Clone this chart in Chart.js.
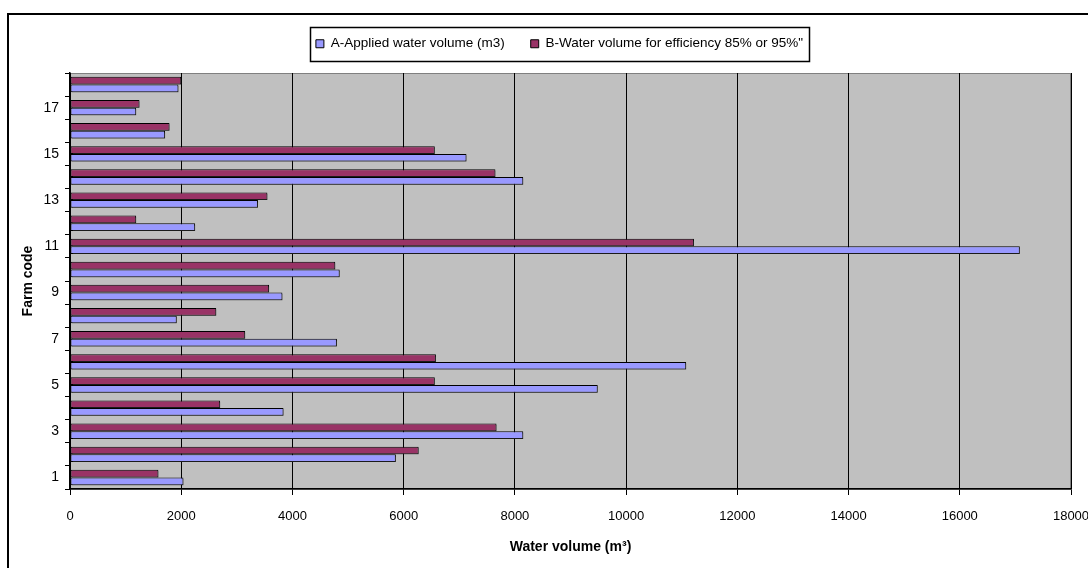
<!DOCTYPE html>
<html>
<head>
<meta charset="utf-8">
<title>Farm water volume</title>
<script src="https://cdn.jsdelivr.net/npm/chart.js@4.4.1/dist/chart.umd.min.js"></script>
<style>
    html, body { margin: 0; padding: 0; background: #fff; }
    #wrap { width: 1088px; height: 568px; position: relative; }
</style>
</head>
<body>
<div id="wrap"><canvas id="farm-chart"></canvas></div>
<script>
// data (farm 1 .. 18)
const farmCodes = ['1', '2', '3', '4', '5', '6', '7', '8', '9', '10', '11', '12', '13', '14', '15', '16', '17', '18'];
const appliedVolume = [2040, 5860, 8150, 3840, 9490, 11080, 4800, 1920, 3820, 4850, 17080, 2250, 3380, 8150, 7130, 1710, 1190, 1950];
const efficiencyVolume = [1590, 6270, 7670, 2700, 6560, 6580, 3150, 2630, 3580, 4770, 11220, 1190, 3550, 7650, 6560, 1790, 1250, 2000];
const seriesNames = ['A-Applied water volume (m3)', 'B-Water volume for efficiency 85% or 95%"'];
const xMax = 18000;
const xStep = 2000;

const FONT = "'Liberation Sans', Arial, sans-serif";
const LAYOUT_TOP = 11;
const PLOT_TOP = 73;

// grey plot background + thin grey border, like the spreadsheet plot area
const plotArea = {
    id: 'plotArea',
    beforeDraw(chart) {
        const { ctx, chartArea: a } = chart;
        ctx.save();
        ctx.fillStyle = '#c0c0c0';
        ctx.fillRect(a.left, a.top, a.right - a.left, a.bottom - a.top);
        ctx.strokeStyle = '#808080';
        ctx.lineWidth = 1;
        ctx.strokeRect(a.left + 0.5, a.top + 0.5, a.right - a.left - 1, a.bottom - a.top);
        ctx.restore();
    },
    beforeDatasetsDraw(chart) {
        const ctx = chart.ctx;
        ctx.save();
        ctx.shadowColor = 'rgba(60,60,60,0.45)';
        ctx.shadowOffsetX = 1.5;
        ctx.shadowOffsetY = 1.5;
        ctx.shadowBlur = 0;
    },
    afterDatasetsDraw(chart) {
        chart.ctx.restore();
    }
};

// outer chart frame and the box round the legend
const frames = {
    id: 'frames',
    beforeLayout(chart) {
        const lg = chart.legend;
        if (lg && !lg._padded) {
            const fit = lg.fit;
            lg.fit = function () {
                fit.call(this);
                this.height = PLOT_TOP - LAYOUT_TOP;
            };
            lg._padded = true;
        }
    },
    afterLayout(chart) {
        // legend sits a little right of centre in the original
        chart.legend.left += 20;
        chart.legend.right += 20;
    },
    afterDraw(chart) {
        const ctx = chart.ctx;
        ctx.save();
        ctx.strokeStyle = '#000';
        ctx.lineWidth = 2;
        ctx.beginPath();
        ctx.moveTo(8, chart.height);
        ctx.lineTo(8, 14);
        ctx.lineTo(chart.width, 14);
        ctx.stroke();

        const boxes = chart.legend.legendHitBoxes;
        if (boxes && boxes.length) {
            const left = Math.min(...boxes.map(b => b.left)) - 6;
            const right = Math.max(...boxes.map(b => b.left + b.width)) + 6;
            const mid = boxes[0].top + boxes[0].height / 2;
            ctx.lineWidth = 1.5;
            ctx.strokeRect(Math.round(left) + 0.5, Math.round(mid - 17) + 0.5, Math.round(right - left), 34);
        }
        ctx.restore();
    }
};

new Chart(document.getElementById('farm-chart'), {
    type: 'bar',
    data: {
        labels: farmCodes,
        datasets: [
            {
                label: seriesNames[1],
                data: efficiencyVolume,
                backgroundColor: '#993366',
                borderColor: '#000',
                borderWidth: 1,
                borderSkipped: false
            },
            {
                label: seriesNames[0],
                data: appliedVolume,
                backgroundColor: '#9999ff',
                borderColor: '#000',
                borderWidth: 1,
                borderSkipped: false
            }
        ]
    },
    plugins: [plotArea, frames],
    options: {
        indexAxis: 'y',
        responsive: true,
        maintainAspectRatio: false,
        animation: false,
        categoryPercentage: 0.667,
        barPercentage: 1.0,
        layout: { padding: { top: LAYOUT_TOP, left: 8, right: 17, bottom: 0 } },
        plugins: {
            tooltip: { enabled: false },
            legend: {
                position: 'top',
                reverse: true,
                labels: {
                    color: '#000',
                    font: { family: FONT, size: 13.5 },
                    boxWidth: 8,
                    boxHeight: 8,
                    padding: 26
                }
            }
        },
        scales: {
            x: {
                type: 'linear',
                min: 0,
                max: xMax,
                afterFit(scale) {
                    scale.height = 79;
                    scale.paddingLeft = 0;
                    scale.paddingRight = 0;
                },
                ticks: {
                    stepSize: xStep,
                    color: '#000',
                    padding: 14,
                    maxRotation: 0,
                    font: { family: FONT, size: 13 },
                    callback: v => String(v)
                },
                grid: { color: '#000', lineWidth: 1, tickLength: 6 },
                border: { color: '#000', width: 1.5 },
                title: {
                    display: true,
                    text: 'Water volume (m³)',
                    color: '#000',
                    font: { family: FONT, size: 14, weight: 'bold' },
                    padding: { top: 0, bottom: 12 }
                }
            },
            y: {
                type: 'category',
                reverse: true,
                afterFit(scale) {
                    scale.width = 62;
                },
                ticks: {
                    autoSkip: false,
                    color: '#000',
                    padding: 6,
                    font: { family: FONT, size: 14 },
                    callback: (v, i) => (i % 2 === 0 ? farmCodes[i] : '')
                },
                grid: { offset: true, drawOnChartArea: false, color: '#000', tickLength: 5 },
                border: { color: '#000', width: 1.5 },
                title: {
                    display: true,
                    text: 'Farm code',
                    color: '#000',
                    font: { family: FONT, size: 14, weight: 'bold' },
                    padding: { top: 12, bottom: 0 }
                }
            }
        }
    }
});
</script>
</body>
</html>
